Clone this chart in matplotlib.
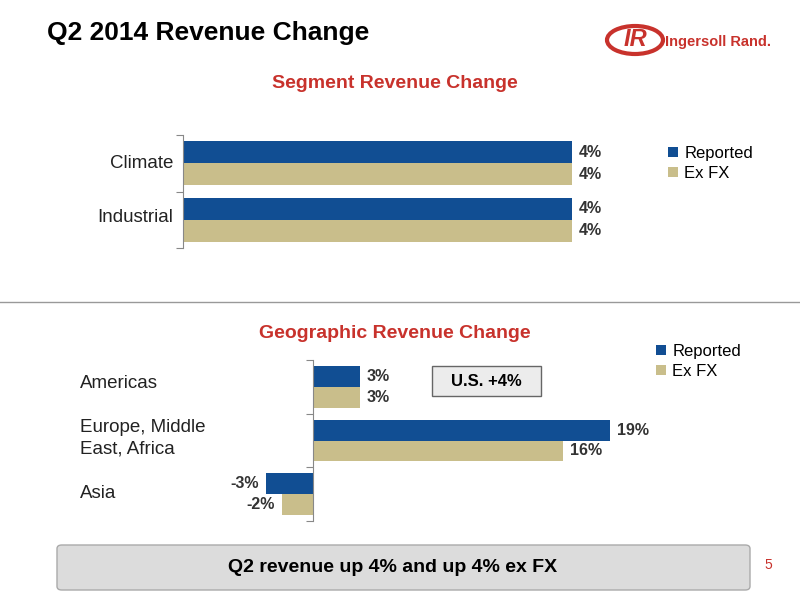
import matplotlib
matplotlib.use("Agg")
import matplotlib.pyplot as plt
from matplotlib.patches import Rectangle, Ellipse, FancyBboxPatch

plt.rcParams["font.family"] = ["Liberation Sans", "DejaVu Sans"]

seg_cats = ["Climate", "Industrial"]
seg_reported = [4, 4]
seg_exfx = [4, 4]
geo_cats = ["Americas", "Europe, Middle\nEast, Africa", "Asia"]
geo_reported = [3, 19, -3]
geo_exfx = [3, 16, -2]

BLUE = "#114e93"
TAN = "#c9be8b"
RED = "#c8322c"
W, H = 800, 600
fig = plt.figure(figsize=(8, 6), dpi=100)

def ax_px(x0, y0, x1, y1):
    return fig.add_axes([x0 / W, 1 - y1 / H, (x1 - x0) / W, (y1 - y0) / H])

fig.text(47 / W, 1 - 33 / H, "Q2 2014 Revenue Change", fontsize=19, fontweight="bold", va="center")
# logo
fig.patches.append(Ellipse((635 / W, 1 - 40 / H), 56 / W, 28 / H, transform=fig.transFigure,
                           fill=False, ec=RED, lw=3))
fig.text(635 / W, 1 - 40 / H, "IR", fontsize=17, fontweight="bold", style="italic", color=RED,
         ha="center", va="center")
fig.text(665 / W, 1 - 42 / H, "Ingersoll Rand.", fontsize=10.5, color=RED, ha="left", va="center",
         fontweight="bold")

def barchart(ax, cats, rep, ex, xlim):
    n = len(cats)
    ys = list(range(n))
    h = 0.39
    ax.barh([y - h / 2 for y in ys], rep, height=h, color=BLUE, label="Reported")
    ax.barh([y + h / 2 for y in ys], ex, height=h, color=TAN, label="Ex FX")
    for y, r, e in zip(ys, rep, ex):
        for v, yy in ((r, y - h / 2), (e, y + h / 2)):
            off = 5 if v >= 0 else -5
            ax.annotate(f"{v}%", (v, yy), xytext=(off, 0), textcoords="offset points",
                        ha="left" if v >= 0 else "right", va="center", fontsize=11.5,
                        fontweight="bold", color="#333333")
    ax.set_xlim(*xlim)
    ax.set_ylim(n - 0.5, -0.5)
    for s in ("top", "right", "bottom"):
        ax.spines[s].set_visible(False)
    ax.spines["left"].set_position(("data", 0))
    ax.spines["left"].set_color("#888888")
    ax.set_xticks([])
    ax.set_yticks([i - 0.5 for i in range(n + 1)])
    ax.set_yticklabels([])
    ax.tick_params(axis="y", direction="out", length=5, color="#888888")
    ax.set_facecolor("none")

leg_kw = dict(bbox_transform=fig.transFigure, frameon=False, fontsize=12, handlelength=0.55,
              handleheight=0.55, handletextpad=0.4, labelspacing=0.25, borderpad=0)

ax1 = ax_px(183, 135, 572, 248)
barchart(ax1, seg_cats, seg_reported, seg_exfx, (0, 4))
for i, c in enumerate(seg_cats):
    fig.text(173 / W, 1 - (163 + 55 * i) / H, c, fontsize=13.5, ha="right", va="center", color="#222222")
ax1.legend(loc="upper left", bbox_to_anchor=(660 / W, 1 - 138 / H), **leg_kw)
fig.text(395 / W, 1 - 83 / H, "Segment Revenue Change", fontsize=14, fontweight="bold", color=RED,
         ha="center", va="center")

fig.add_artist(plt.Line2D([0, 1], [1 - 302 / H] * 2, color="#999999", lw=1))

ax2 = ax_px(266, 360, 610, 521)
barchart(ax2, geo_cats, geo_reported, geo_exfx, (-3, 19))
for i, c in enumerate(geo_cats):
    fig.text(80 / W, 1 - (383 + 55 * i) / H, c, fontsize=13.5, ha="left", va="center", color="#222222",
             linespacing=1.35)
ax2.legend(loc="upper left", bbox_to_anchor=(648 / W, 1 - 336 / H), **leg_kw)
fig.text(395 / W, 1 - 333 / H, "Geographic Revenue Change", fontsize=14, fontweight="bold", color=RED,
         ha="center", va="center")

fig.patches.append(Rectangle((432 / W, 1 - 396 / H), 109 / W, 30 / H, transform=fig.transFigure,
                             fc="#ececec", ec="#666666", lw=1))
fig.text(486 / W, 1 - 381 / H, "U.S. +4%", fontsize=12, fontweight="bold", ha="center", va="center")

fig.patches.append(FancyBboxPatch((57 / W, 1 - 590 / H), 693 / W, 45 / H, transform=fig.transFigure,
                                  boxstyle="round,pad=0,rounding_size=0.006", fc="#dcdcdc",
                                  ec="#aaaaaa", lw=1))
fig.text(393 / W, 1 - 567 / H, "Q2 revenue up 4% and up 4% ex FX", fontsize=14, fontweight="bold",
         ha="center", va="center")
fig.text(768 / W, 1 - 565 / H, "5", fontsize=10, color=RED, ha="center", va="center")

fig.savefig("out.png", dpi=100)
